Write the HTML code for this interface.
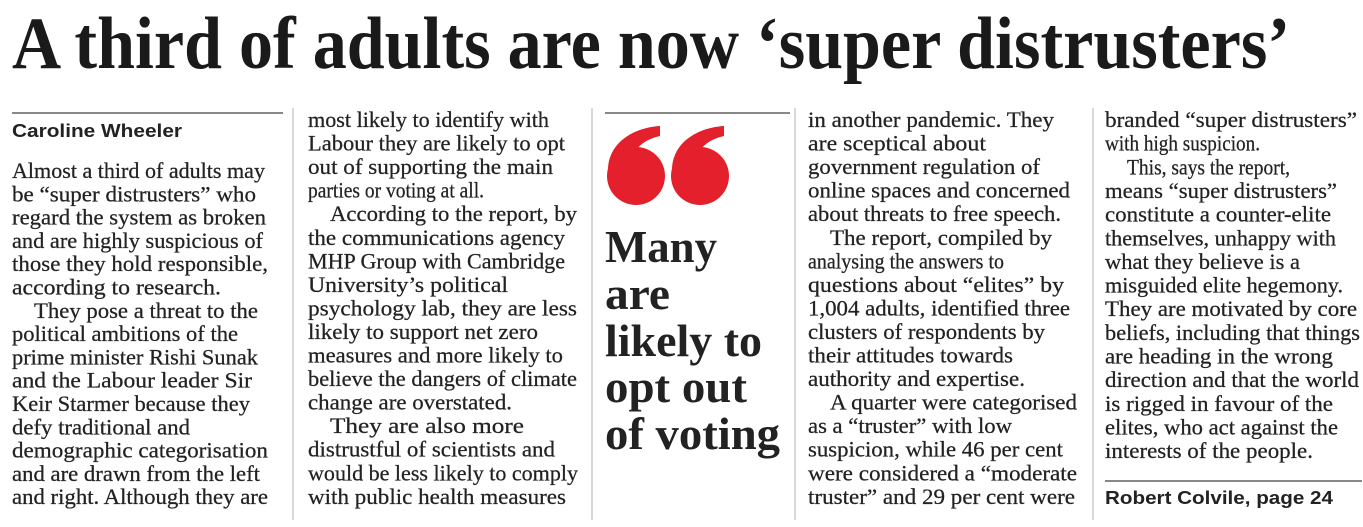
<!DOCTYPE html>
<html><head><meta charset="utf-8"><style>
html,body{margin:0;padding:0;background:#fff;width:1363px;height:527px;overflow:hidden}
svg text{font-family:"Liberation Serif",serif;fill:#222}
.b{font-size:22px;stroke:#222;stroke-width:0.25}
.s{font-family:"Liberation Sans",sans-serif;font-weight:bold;font-size:18px;fill:#222}
.pq{font-size:46px;font-weight:bold}
</style></head><body>
<svg width="1363" height="527" xmlns="http://www.w3.org/2000/svg">
<text x="12" y="68" font-size="74" font-weight="bold" textLength="1278" lengthAdjust="spacingAndGlyphs" style="fill:#1a1a1a">A third of adults are now ‘super distrusters’</text>
<g stroke="#ccc" stroke-width="1.5">
<line x1="12" y1="113" x2="283" y2="113" stroke="#888" stroke-width="2"/>
<line x1="605" y1="113" x2="790" y2="113" stroke="#888" stroke-width="2"/>
<line x1="293" y1="108" x2="293" y2="520"/>
<line x1="592" y1="108" x2="592" y2="520"/>
<line x1="795" y1="108" x2="795" y2="520"/>
<line x1="1093" y1="108" x2="1093" y2="520"/>
<line x1="1105" y1="481" x2="1362" y2="481" stroke="#888" stroke-width="2"/>
</g>
<text class="s" x="12" y="137" textLength="170" lengthAdjust="spacingAndGlyphs">Caroline Wheeler</text>
<g id="c1"></g>
<g id="c2"></g>
<g id="c4"></g>
<g id="c5"></g>
<g fill="#e3202b">
<circle cx="636" cy="176" r="29"/><path d="M608 170 C608 145 630 128 660 126 L660 136 C642 140 634 150 632 160 Z"/>
<circle cx="700" cy="176" r="29"/><path d="M672 170 C672 145 694 128 724 126 L724 136 C706 140 698 150 696 160 Z"/>
</g>
<g>
<text class="pq" x="605" y="262" textLength="112" lengthAdjust="spacingAndGlyphs">Many</text>
<text class="pq" x="605" y="309" textLength="65" lengthAdjust="spacingAndGlyphs">are</text>
<text class="pq" x="605" y="356" textLength="157" lengthAdjust="spacingAndGlyphs">likely to</text>
<text class="pq" x="605" y="402" textLength="142" lengthAdjust="spacingAndGlyphs">opt out</text>
<text class="pq" x="605" y="449" textLength="175" lengthAdjust="spacingAndGlyphs">of voting</text>
</g>
<text class="s" x="1105" y="504" textLength="228" lengthAdjust="spacingAndGlyphs">Robert Colvile, page 24</text>
</svg>
<script>
const NS="http://www.w3.org/2000/svg";
function col(id,x,y0,step,lines){
  const g=document.getElementById(id);
  lines.forEach((l,i)=>{
    const t=document.createElementNS(NS,"text");
    
    
    t.setAttribute("class","b");
    const xs=x+(l[2]?22:0);
    t.setAttribute("x",xs);
    t.setAttribute("y",y0+i*step);
    t.setAttribute("textLength",l[1]-xs);
    t.setAttribute("lengthAdjust","spacingAndGlyphs");
    t.textContent=l[0];
    g.appendChild(t);
  });
}
col("c1",12,178,23.3,[
["Almost a third of adults may",265],["be “super distrusters” who",256],["regard the system as broken",266],["and are highly suspicious of",263],["those they hold responsible,",268],["according to research.",221],["They pose a threat to the",258,1],["political ambitions of the",238],["prime minister Rishi Sunak",258],["and the Labour leader Sir",252],["Keir Starmer because they",250],["defy traditional and",190],["demographic categorisation",268],["and are drawn from the left",260],["and right. Although they are",268]]);
col("c2",308,127,23.55,[
["most likely to identify with",549],["Labour they are likely to opt",565],["out of supporting the main",553],["parties or voting at all.",484],["According to the report, by",577,1],["the communications agency",565],["MHP Group with Cambridge",565],["University’s political",508],["psychology lab, they are less",577],["likely to support net zero",538],["measures and more likely to",563],["believe the dangers of climate",577],["change are overstated.",512],["They are also more",524,1],["distrustful of scientists and",555],["would be less likely to comply",578],["with public health measures",566]]);
col("c4",808,127,23.55,[
["in another pandemic. They",1054],["are sceptical about",986],["government regulation of",1040],["online spaces and concerned",1070],["about threats to free speech.",1061],["The report, compiled by",1052,1],["analysing the answers to",1004],["questions about “elites” by",1064],["1,004 adults, identified three",1070],["clusters of respondents by",1045],["their attitudes towards",1013],["authority and expertise.",1025],["A quarter were categorised",1077,1],["as a “truster” with low",1012],["suspicion, while 46 per cent",1063],["were considered a “moderate",1077],["truster” and 29 per cent were",1075]]);
col("c5",1105,127,23.65,[
["branded “super distrusters”",1357],["with high suspicion.",1260],["This, says the report,",1290,1],["means “super distrusters”",1337],["constitute a counter-elite",1331],["themselves, unhappy with",1336],["what they believe is a",1300],["misguided elite hegemony.",1343],["They are motivated by core",1357],["beliefs, including that things",1360],["are heading in the wrong",1333],["direction and that the world",1359],["is rigged in favour of the",1333],["elites, who act against the",1338],["interests of the people.",1313]]);
</script>
</body></html>
